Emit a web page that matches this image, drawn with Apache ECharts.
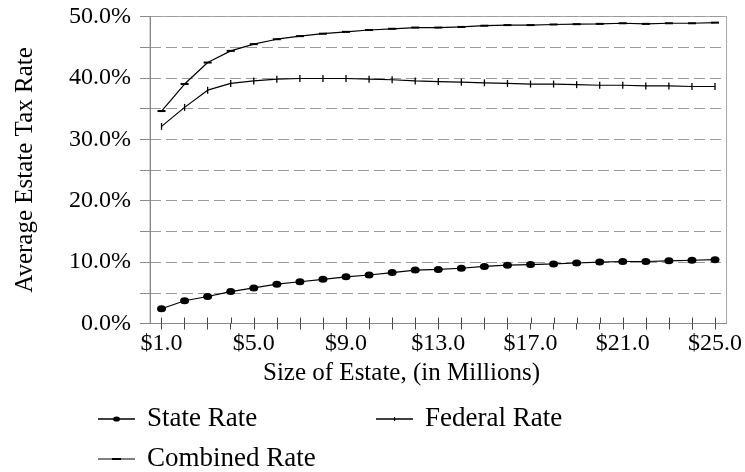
<!DOCTYPE html>
<html><head><meta charset="utf-8">
<script src="https://cdn.jsdelivr.net/npm/echarts@6/dist/echarts.min.js"></script>
<style>html,body{margin:0;padding:0;background:#fff}#c{width:745px;height:472px}</style>
</head><body><div id="c"></div>
<script>
const categories = ['$1.0','$2.0','$3.0','$4.0','$5.0','$6.0','$7.0','$8.0','$9.0','$10.0','$11.0','$12.0','$13.0','$14.0','$15.0','$16.0','$17.0','$18.0','$19.0','$20.0','$21.0','$22.0','$23.0','$24.0','$25.0'];
const stateRate = [2.4,3.7,4.4,5.2,5.8,6.4,6.8,7.2,7.6,7.9,8.3,8.7,8.8,9.0,9.3,9.5,9.6,9.7,9.85,10.0,10.1,10.1,10.2,10.3,10.4];
const federalRate = [32.1,35.2,38.0,39.1,39.5,39.8,39.9,39.9,39.9,39.8,39.7,39.5,39.4,39.3,39.2,39.1,39.0,39.0,38.9,38.8,38.8,38.7,38.7,38.6,38.6];
const combinedRate = [34.6,39.0,42.5,44.4,45.5,46.3,46.8,47.2,47.5,47.8,48.0,48.2,48.2,48.3,48.5,48.6,48.6,48.7,48.75,48.8,48.9,48.8,48.9,48.9,49.0];
const seriesNames = ['State Rate','Federal Rate','Combined Rate'];
const yAxisTitle = 'Average Estate Tax Rate';
const xAxisTitle = 'Size of Estate, (in Millions)';

const FONT = '"Liberation Serif", "Times New Roman", serif';
const chart = echarts.init(document.getElementById('c'));
const gridPos = {left:150, right:18, top:16.5, bottom:148.5};
const legendCommon = {
  itemWidth:37, itemHeight:10, selectedMode:false, orient:'horizontal',
  padding:0, symbolKeepAspect:true,
  textStyle:{fontFamily:FONT, fontSize:27, color:'#000', padding:[0,0,0,7], lineHeight:27}
};
const iconState = 'path://M0,4.3H37V5.7H0Z M15,5A3.5,2.6,0,1,1,22,5A3.5,2.6,0,1,1,15,5Z';
const iconFederal = 'path://M0,0.01H0.01V0H0Z M0,4.3H37V5.7H0Z M18,3H19.2V7H18Z M36.99,10H37V9.99H36.99Z';
const iconCombined = 'path://M0,0.01H0.01V0H0Z M0,4.4H37V5.6H0Z M14,3.9H23V6.1H14Z M36.99,10H37V9.99H36.99Z';
const labelRich = {s:{fontFamily:FONT, fontSize:24, color:'#000'}};
const lineCommon = {
  type:'line', xAxisIndex:0, yAxisIndex:0, animation:false, showAllSymbol:true,
  lineStyle:{color:'#000', width:1.2}, itemStyle:{color:'#000'}
};
chart.setOption({
  animation:false,
  backgroundColor:'#fff',
  textStyle:{fontFamily:FONT},
  title:{text:xAxisTitle, left:263, top:360.5, padding:0,
    textStyle:{fontFamily:FONT, fontSize:25, fontWeight:'normal', color:'#000'}},
  grid:[
    Object.assign({show:true, borderColor:'#a8a8a8', borderWidth:1}, gridPos),
    Object.assign({show:false}, gridPos)
  ],
  legend:[
    Object.assign({data:[{name:seriesNames[0], icon:iconState}], left:98, top:405.5}, legendCommon),
    Object.assign({data:[{name:seriesNames[1], icon:iconFederal}], left:376, top:405.5}, legendCommon),
    Object.assign({data:[{name:seriesNames[2], icon:iconCombined}], left:98, top:445.5}, legendCommon)
  ],
  xAxis:[{
    type:'category', data:categories, boundaryGap:true, gridIndex:0,
    axisLine:{show:true, lineStyle:{color:'#888', width:1}},
    axisTick:{show:true, alignWithLabel:true, interval:0, length:6, lineStyle:{color:'#444'}},
    axisLabel:{interval:3, color:'#000', fontFamily:FONT, fontSize:24, margin:8,
      formatter:v => '{s|' + v + '}', rich:labelRich},
    splitLine:{show:false}
  },{
    type:'category', data:categories, boundaryGap:true, gridIndex:1, position:'bottom',
    axisLine:{show:false},
    axisTick:{show:true, inside:true, alignWithLabel:true, interval:0, length:6, lineStyle:{color:'#444'}},
    axisLabel:{show:false}, splitLine:{show:false}
  }],
  yAxis:[{
    type:'value', min:0, max:50, interval:5, gridIndex:0,
    name:yAxisTitle, nameLocation:'middle', nameRotate:90, nameGap:112,
    nameTextStyle:{fontFamily:FONT, fontSize:25, color:'#000'},
    axisLine:{show:true, lineStyle:{color:'#888', width:1}},
    axisTick:{show:true, length:10, lineStyle:{color:'#888'}},
    axisLabel:{color:'#000', fontFamily:FONT, fontSize:24, margin:19, rich:labelRich,
      formatter:v => (v % 10 === 0 ? '{s|' + v.toFixed(1) + '%}' : '')},
    splitLine:{show:true, lineStyle:{color:'#999', type:[11,5], width:1}}
  },{
    type:'value', gridIndex:1, show:false, min:0, max:50
  }],
  series:[
    Object.assign({name:seriesNames[0], data:stateRate, symbol:'circle', symbolSize:[9,7]}, lineCommon),
    Object.assign({name:seriesNames[1], data:federalRate, symbol:'rect', symbolSize:[1.3,7]}, lineCommon),
    Object.assign({name:seriesNames[2], data:combinedRate, symbol:'rect', symbolSize:[8,2]}, lineCommon)
  ]
});
</script></body></html>
